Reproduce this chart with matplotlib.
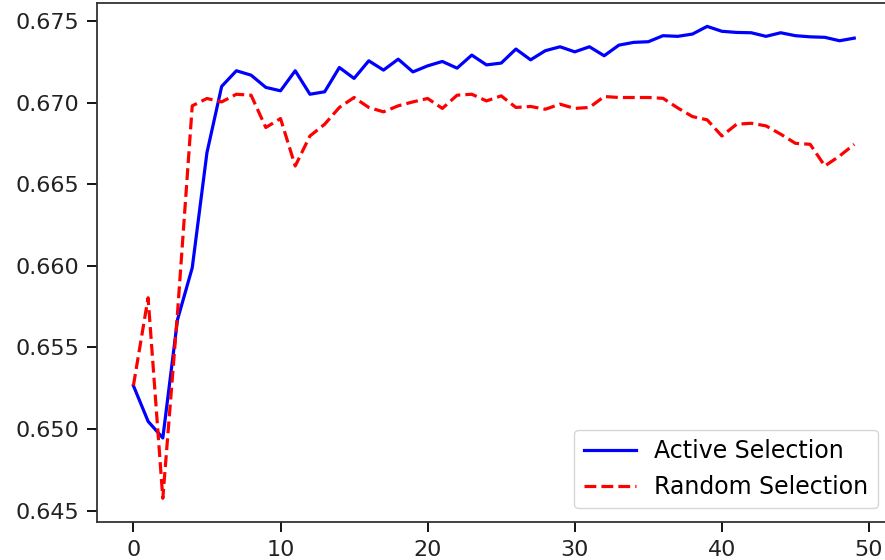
import numpy as np
import matplotlib
matplotlib.use('Agg')
from matplotlib import pyplot as plt

# values
active = [0.65266, 0.65047, 0.64945, 0.65671, 0.65989, 0.66695, 0.67101, 0.67197,
          0.67170, 0.67095, 0.67074, 0.67197, 0.67053, 0.67068, 0.67217, 0.67150,
          0.67258, 0.67201, 0.67268, 0.67190, 0.67227, 0.67254, 0.67213, 0.67293,
          0.67233, 0.67244, 0.67330, 0.67264, 0.67320, 0.67344, 0.67313, 0.67344,
          0.67289, 0.67354, 0.67371, 0.67375, 0.67412, 0.67408, 0.67422, 0.67469,
          0.67439, 0.67432, 0.67430, 0.67408, 0.67430, 0.67412, 0.67405, 0.67402,
          0.67381, 0.67397]
random_sel = [0.65266, 0.65805, 0.64575, 0.65713, 0.66982, 0.67027, 0.67006, 0.67053,
              0.67047, 0.66849, 0.66904, 0.66613, 0.66797, 0.66869, 0.66972, 0.67033,
              0.66972, 0.66945, 0.66982, 0.67006, 0.67027, 0.66966, 0.67047, 0.67053,
              0.67012, 0.67043, 0.66972, 0.66978, 0.66961, 0.66992, 0.66966, 0.66972,
              0.67039, 0.67033, 0.67033, 0.67033, 0.67028, 0.66969, 0.66916, 0.66896,
              0.66797, 0.66869, 0.66875, 0.66859, 0.66808, 0.66752, 0.66746, 0.66613,
              0.66674, 0.66746]
steps = np.arange(len(active))

fig = plt.figure(figsize=(8.85, 5.6), dpi=100)
# axes runs a little past the right edge, as in the cropped screenshot
ax = fig.add_axes([0.110, 0.068, 0.896, 0.927])

ax.plot(steps, active, 'b-', lw=2.3, label='Active Selection')
ax.plot(steps, random_sel, 'r--', lw=2.3, label='Random Selection')

ax.set_xticks([0, 10, 20, 30, 40, 50])
ax.set_yticks([0.645, 0.650, 0.655, 0.660, 0.665, 0.670, 0.675])
ax.tick_params(labelsize=16, length=7, width=1.3, pad=6, labelcolor='#222222')
for s in ax.spines.values():
    s.set_linewidth(1.3)
    s.set_color('#333333')

ax.legend(loc='lower right', fontsize=17, bbox_to_anchor=(0.9845, 0.026),
          borderaxespad=0.0, handlelength=2.2)

fig.savefig('out.png', dpi=100)
